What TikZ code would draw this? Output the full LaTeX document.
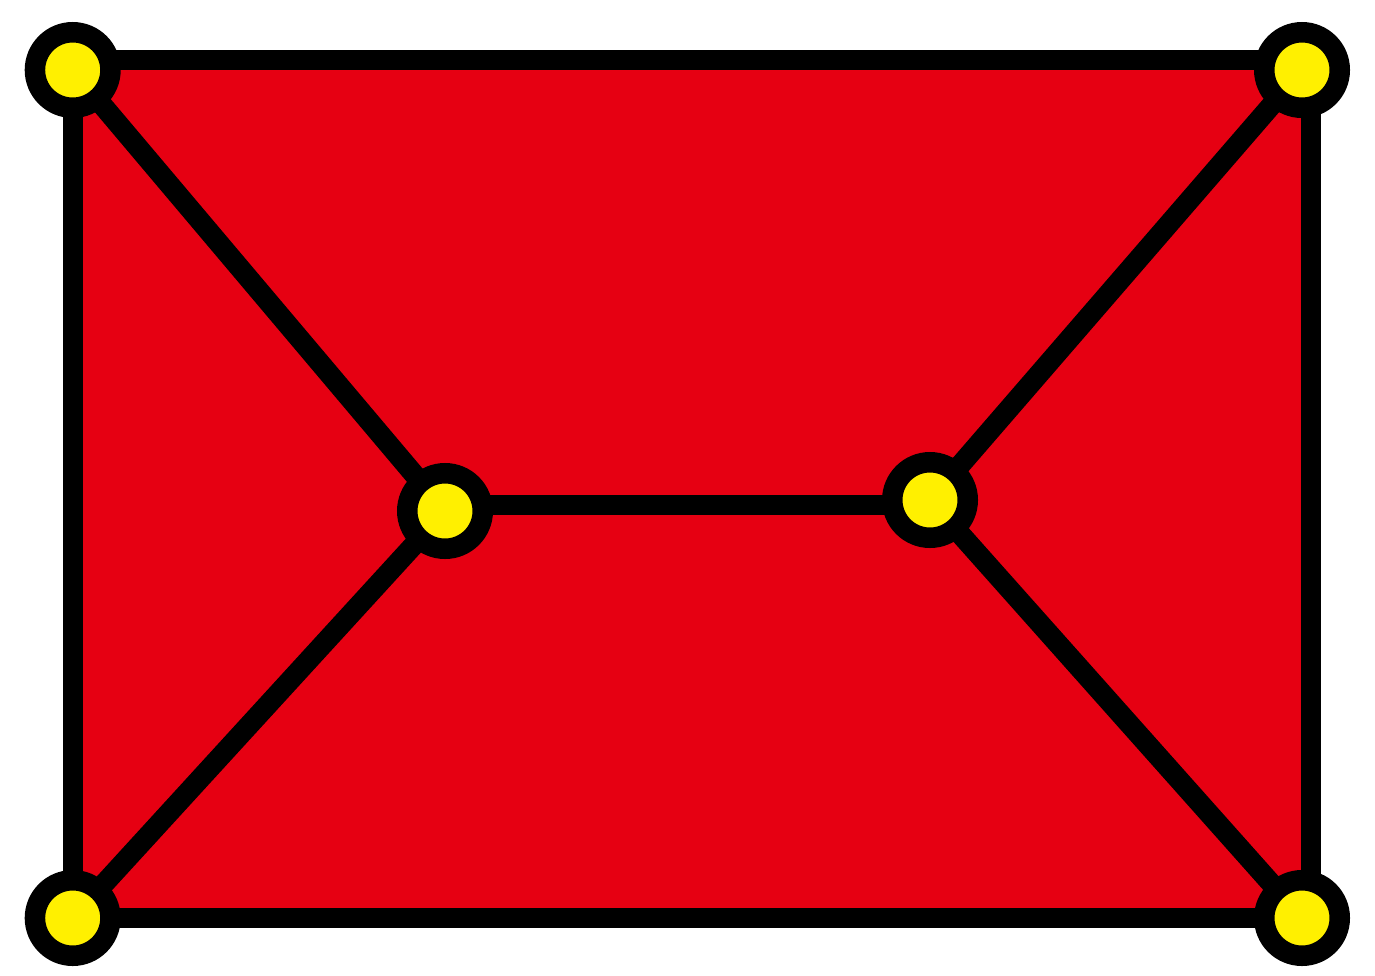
\documentclass[tikz,border=0pt]{standalone}
\definecolor{fillred}{HTML}{E60012}
\definecolor{dotyellow}{HTML}{FFF000}
\tikzset{
  edgeline/.style={line width=20.5pt, draw=black},
  vertex/.style={circle, draw=black, line width=20.5pt, fill=dotyellow, minimum size=75.5pt, inner sep=0pt}
}
\begin{document}
\begin{tikzpicture}[x=1pt,y=-1pt]
\useasboundingbox (0,0) rectangle (1375,975);
% vertex positions
\coordinate (tl) at (72.7,70);
\coordinate (tr) at (1302,70);
\coordinate (bl) at (72.7,918);
\coordinate (br) at (1302,918);
\coordinate (ml) at (445,511);
\coordinate (mr) at (930,500);
% outer frame corners
\coordinate (ftl) at (73,60);
\coordinate (ftr) at (1311,60);
\coordinate (fbr) at (1311,918);
\coordinate (fbl) at (73,918);
\path[fill=fillred] (ftl) -- (ftr) -- (fbr) -- (fbl) -- cycle;
\draw[edgeline, line join=miter] (ftl) -- (ftr) -- (fbr) -- (fbl) -- cycle;
\draw[edgeline] (tl) -- (ml);
\draw[edgeline] (bl) -- (ml);
\draw[edgeline] (tr) -- (mr);
\draw[edgeline] (br) -- (mr);
\draw[edgeline] ([yshift=6pt]ml) -- ([yshift=-5pt]mr);
\node[vertex] (vtl) at (tl) {};
\node[vertex] (vtr) at (tr) {};
\node[vertex] (vbl) at (bl) {};
\node[vertex] (vbr) at (br) {};
\node[vertex] (vml) at (ml) {};
\node[vertex] (vmr) at (mr) {};
\end{tikzpicture}
\end{document}
